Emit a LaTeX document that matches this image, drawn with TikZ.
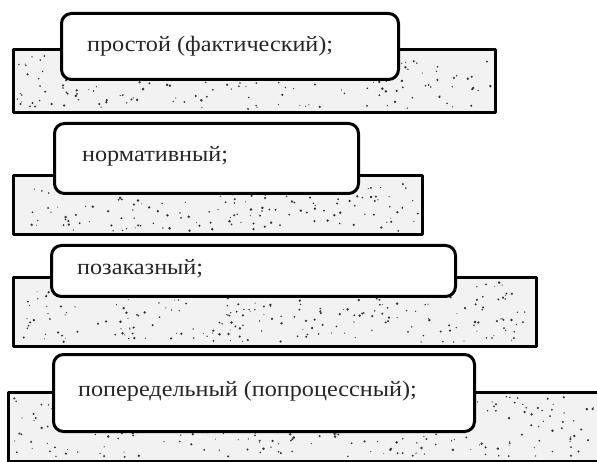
\documentclass[tikz,border=0pt]{standalone}
\usepackage{fontspec}
\setmainfont{Liberation Serif}
\newfontfamily\lblfont{Liberation Serif}[FakeStretch=1.1]
\usetikzlibrary{calc}
\tikzset{
  base/.style={draw=black, line width=3pt, line join=round},
  band/.style={base, fill=black!5},
  card/.style={base, fill=white, rounded corners=10pt},
  lbl/.style={anchor=west, inner sep=0pt, font=\lblfont\fontsize{22}{26}\selectfont, text=black!85},
  speck/.style={fill=black!80}
}
\newcommand{\specks}[5]{% x1 y1 x2 y2 count
  \foreach \k in {1,...,#5}{
    \fill[speck] ({#1+rnd*(#3-#1)},{#2+rnd*(#4-#2)}) circle ({0.5+0.9*rnd});
  }
}
\begin{document}
\begin{tikzpicture}[x=1pt,y=-1pt]
\useasboundingbox (0,0) rectangle (597,462);
\fill[white] (0,0) rectangle (597,462);
\pgfmathsetseed{7}
\begin{scope}
\clip (0,0) rectangle (597,462);
% group 1
\draw[band] (13,50) rectangle (495,113);
\specks{17}{54}{491}{109}{180}
\node[card, minimum width=337pt, minimum height=66pt, anchor=north west] (b1) at (60,12) {};
\node[lbl] (t1) at (87,46) {простой (фактический);};
% group 2
\draw[band] (13,176) rectangle (422,235);
\specks{17}{180}{418}{231}{160}
\node[card, minimum width=304pt, minimum height=70pt, anchor=north west] (b2) at (53,122) {};
\node[lbl] (t2) at (82,156) {нормативный;};
% group 3
\draw[band] (13,278) rectangle (536,346);
\specks{17}{282}{532}{342}{260}
\node[card, minimum width=404pt, minimum height=51pt, anchor=north west] (b3) at (50,244) {};
\node[lbl] (t3) at (77,269) {позаказный;};
% group 4
\draw[band] (8,392) rectangle (610,461);
\specks{12}{396}{597}{457}{290}
\node[card, minimum width=421pt, minimum height=77pt, anchor=north west] (b4) at (52,353) {};
\node[lbl] (t4) at (78,391) {попередельный (попроцессный);};
\end{scope}
\end{tikzpicture}
\end{document}
